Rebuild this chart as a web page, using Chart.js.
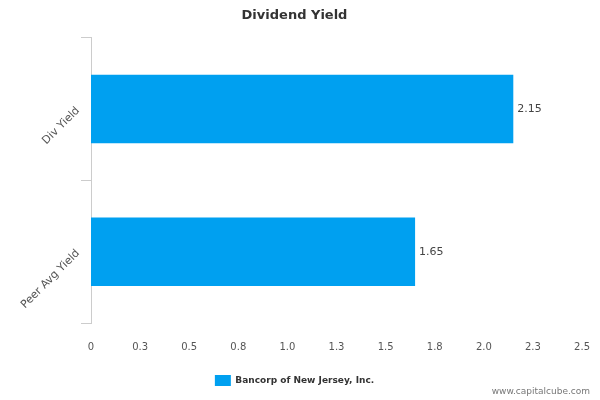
<!DOCTYPE html>
<html>
<head>
<meta charset="utf-8">
<script src="https://cdn.jsdelivr.net/npm/chart.js@4"></script>
<style>
  body { margin: 0; background: #fff; }
  #wrap { width: 600px; height: 400px; position: relative; }
</style>
</head>
<body>
<div id="wrap"><canvas id="c"></canvas></div>
<script>
var categories = ["Div Yield", "Peer Avg Yield"];
var yieldValues = [2.15, 1.65];
var seriesName = "Bancorp of New Jersey, Inc.";
var xTicks = [0, 0.25, 0.5, 0.75, 1, 1.25, 1.5, 1.75, 2, 2.25, 2.5];

// value labels at the end of each bar
var barLabels = {
  id: "barLabels",
  afterDatasetsDraw: function (chart) {
    var ctx = chart.ctx;
    var meta = chart.getDatasetMeta(0);
    ctx.save();
    ctx.font = "11px 'DejaVu Sans', sans-serif";
    ctx.fillStyle = "#444";
    ctx.textBaseline = "middle";
    meta.data.forEach(function (bar, i) {
      ctx.fillText(yieldValues[i].toString(), bar.x + 4, bar.y);
    });
    ctx.font = "9px 'DejaVu Sans', sans-serif";
    ctx.fillStyle = "#777";
    ctx.textAlign = "right";
    ctx.fillText("www.capitalcube.com", 590, 392);
    ctx.restore();
  }
};

new Chart(document.getElementById("c"), {
  type: "bar",
  data: {
    labels: categories,
    datasets: [{
      label: seriesName,
      data: yieldValues,
      backgroundColor: "#00a0f0",
      categoryPercentage: 0.48,
      barPercentage: 1
    }]
  },
  options: {
    indexAxis: "y",
    responsive: true,
    maintainAspectRatio: false,
    animation: false,
    layout: { padding: { left: 0, right: 11, top: 0, bottom: 4 } },
    plugins: {
      title: {
        display: true,
        text: "Dividend Yield",
        color: "#333",
        font: { family: "'DejaVu Sans', sans-serif", size: 13, weight: "bold" },
        padding: { top: 8, bottom: 14 }
      },
      legend: {
        position: "bottom",
        labels: {
          boxWidth: 16, boxHeight: 11,
          color: "#333",
          font: { family: "'DejaVu Sans', sans-serif", size: 9, weight: "bold" },
          padding: 12
        }
      },
      tooltip: { enabled: false }
    },
    scales: {
      x: {
        min: 0, max: 2.5,
        afterBuildTicks: function (axis) {
          axis.ticks = xTicks.map(function (v) { return { value: v }; });
        },
        grid: { display: false },
        border: { display: false },
        ticks: {
          color: "#555",
          padding: 10,
          font: { family: "'DejaVu Sans', sans-serif", size: 10 }
        }
      },
      y: {
        afterFit: function (axis) { axis.width = 91; },
        grid: { offset: true, drawOnChartArea: false, tickLength: 10, color: "#ccc" },
        border: { color: "#ccc" },
        ticks: {
          minRotation: 45, maxRotation: 45,
          color: "#555",
          font: { family: "'DejaVu Sans', sans-serif", size: 11 }
        }
      }
    }
  },
  plugins: [barLabels]
});
</script>
</body>
</html>
